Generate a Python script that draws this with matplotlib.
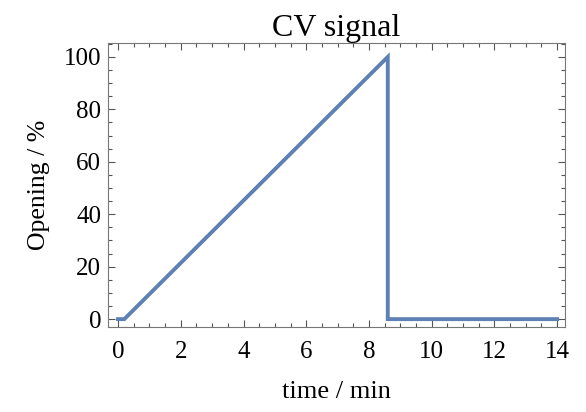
import matplotlib
matplotlib.use("Agg")
import matplotlib.pyplot as plt
from matplotlib.ticker import MultipleLocator

time_min = [0.0, 0.2, 8.6, 8.6, 14.0]
opening_pct = [0.0, 0.0, 100.0, 0.0, 0.0]
title = "CV signal"
xlabel = "time / min"
ylabel = "Opening / %"

plt.rcParams['font.family'] = ['Liberation Serif', 'DejaVu Serif']
fig = plt.figure(figsize=(5.86, 4.12), dpi=100)
ax = fig.add_axes([108/586, 1-327/412, (565-108)/586, (327-43)/412])
ax.plot(time_min, opening_pct, color='#5E81B5', lw=2.8, solid_joinstyle='miter')
ax.set_xlim(-0.32, 14.25)
ax.set_ylim(-3, 105.3)
ax.xaxis.set_major_locator(MultipleLocator(2))
ax.xaxis.set_minor_locator(MultipleLocator(0.5))
ax.yaxis.set_major_locator(MultipleLocator(20))
ax.yaxis.set_minor_locator(MultipleLocator(5))
ax.tick_params(which='both', direction='in', top=True, right=True, color='#555555', width=0.8)
ax.tick_params(which='major', length=5, labelsize=18)
ax.tick_params(axis='x', which='major', pad=10)
ax.tick_params(axis='y', which='major', pad=5)
ax.tick_params(which='minor', length=3)
for s in ax.spines.values():
    s.set_color('#777777')
    s.set_linewidth(0.8)
ax.set_title(title, fontsize=23, pad=5)
ax.set_xlabel(xlabel, fontsize=19, labelpad=13)
ax.set_ylabel(ylabel, fontsize=18.5, labelpad=10)
fig.savefig("out.png", dpi=100)
